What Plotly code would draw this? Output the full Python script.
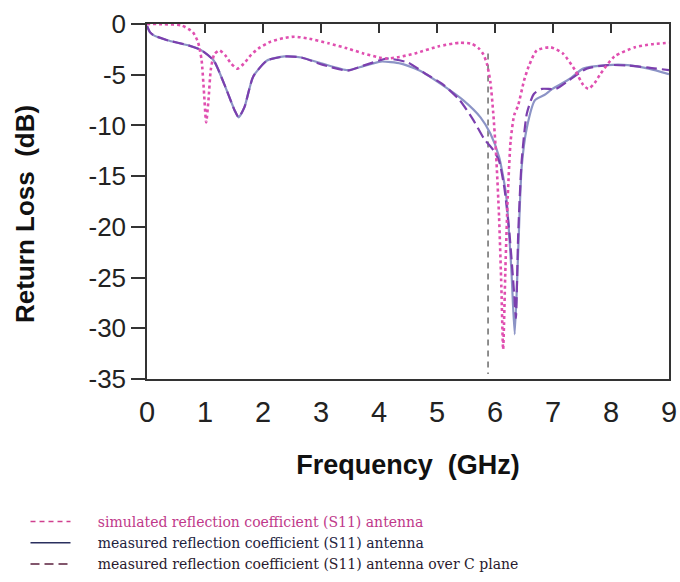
import plotly.graph_objects as go

# ---------------- data ----------------
sim_freq = [0, 0.3, 0.6, 0.79, 0.88, 0.94, 0.98, 1.02, 1.06, 1.1, 1.16, 1.25, 1.35, 1.45,
            1.56, 1.67, 1.8, 1.95, 2.13, 2.35, 2.54, 2.8, 3.13, 3.45, 3.73, 4.0, 4.14,
            4.35, 4.62, 5.03, 5.39, 5.6, 5.72, 5.8, 5.86, 5.92, 5.97, 6.02, 6.07, 6.11,
            6.14, 6.18, 6.22, 6.27, 6.33, 6.4, 6.5, 6.58, 6.72, 6.96, 7.17, 7.38, 7.52,
            7.61, 7.72, 7.82, 8.06, 8.41, 8.7, 9.0]
sim_s11 = [0, -0.02, -0.15, -0.8, -1.8, -3.5, -6.5, -9.7, -7.5, -4.5, -3.0, -2.6, -3.1, -3.9,
           -4.4, -3.9, -3.0, -2.3, -1.75, -1.4, -1.25, -1.45, -1.9, -2.4, -2.9, -3.3, -3.4,
           -3.25, -2.9, -2.2, -1.85, -1.95, -2.4, -3.0, -3.9, -5.7, -8.8, -13.0, -19.0, -26.0,
           -32.1, -24.0, -17.0, -11.5, -9.0, -8.0, -5.6, -4.2, -2.6, -2.3, -2.9, -4.55, -6.0,
           -6.4, -5.8, -4.9, -3.2, -2.3, -2.0, -1.85]

meas_freq = [0, 0.05, 0.11, 0.35, 0.71, 0.94, 1.15, 1.33, 1.51, 1.58, 1.68, 1.83, 2.07, 2.37,
             2.66, 3.02, 3.46, 3.73, 4.03, 4.38, 4.74, 5.09, 5.45, 5.75, 5.92, 6.07, 6.19,
             6.28, 6.34, 6.40, 6.46, 6.55, 6.69, 6.85, 6.99, 7.29, 7.52, 7.94, 8.29, 8.65, 9.0]
meas_s11 = [-0.2, -0.8, -1.1, -1.6, -2.1, -2.6, -3.6, -5.9, -8.5, -9.2, -8.2, -5.2, -3.6, -3.2,
            -3.3, -3.9, -4.55, -4.15, -3.7, -3.9, -4.7, -6.0, -7.5, -9.2, -10.8, -13.1, -16.8,
            -24.0, -30.6, -22.4, -14.1, -10.2, -7.5, -7.0, -6.4, -5.4, -4.4, -4.05, -4.05, -4.4, -4.95]

cplane_freq = [0, 0.05, 0.11, 0.35, 0.71, 0.94, 1.15, 1.33, 1.51, 1.58, 1.68, 1.83, 2.07, 2.37,
               2.66, 3.02, 3.46, 3.73, 4.03, 4.14, 4.5, 4.8, 5.09, 5.39, 5.63, 5.81, 5.98, 6.07,
               6.16, 6.25, 6.33, 6.36, 6.40, 6.46, 6.55, 6.67, 6.81, 7.05, 7.29, 7.58, 7.94,
               8.3, 8.65, 9.0]
cplane_s11 = [-0.2, -0.8, -1.1, -1.6, -2.1, -2.6, -3.6, -5.9, -8.5, -9.2, -8.2, -5.2, -3.6, -3.2,
              -3.3, -4.0, -4.6, -4.1, -3.55, -3.4, -3.8, -4.9, -5.9, -7.5, -9.5, -11.3, -12.5,
              -13.5, -16.1, -20.7, -26.6, -29.0, -20.7, -13.5, -8.8, -6.9, -6.4, -6.4, -5.5,
              -4.4, -4.05, -4.1, -4.3, -4.55]

marker_freq = [5.88, 5.88]
marker_s11 = [-2.9, -34.5]

x_ticks = [0, 1, 2, 3, 4, 5, 6, 7, 8, 9]
y_ticks = [0, -5, -10, -15, -20, -25, -30, -35]

x_title = "Frequency  (GHz)"
y_title = "Return Loss  (dB)"

legend_names = [
    "simulated reflection coefficient (S11) antenna",
    "measured reflection coefficient (S11) antenna",
    "measured reflection coefficient (S11) antenna over C plane",
]

# ---------------- figure ----------------
fig = go.Figure()

fig.add_trace(go.Scatter(x=marker_freq, y=marker_s11, mode="lines",
                         line=dict(color="#555555", width=1.3, dash="6px,5px"),
                         showlegend=False, hoverinfo="skip"))
fig.add_trace(go.Scatter(x=meas_freq, y=meas_s11, mode="lines",
                         line=dict(color="#8c94c6", width=2.2, shape="spline", smoothing=0.6),
                         showlegend=False))
fig.add_trace(go.Scatter(x=cplane_freq, y=cplane_s11, mode="lines",
                         line=dict(color="#7b3fae", width=2.2, dash="11px,5px",
                                   shape="spline", smoothing=0.6),
                         showlegend=False))
fig.add_trace(go.Scatter(x=sim_freq, y=sim_s11, mode="lines",
                         line=dict(color="#e04fb0", width=2.6, dash="3px,3px",
                                   shape="spline", smoothing=0.6),
                         showlegend=False))

# legend entries (styled like the reference legend)
sp = "&nbsp;" * 5
fig.add_trace(go.Scatter(x=[None], y=[None], mode="lines",
                         line=dict(color="#d0408f", width=1.5, dash="5px,4px"),
                         name=sp + "<span style='color:#c0398a'>" + legend_names[0] + "</span>"))
fig.add_trace(go.Scatter(x=[None], y=[None], mode="lines",
                         line=dict(color="#2a2f5e", width=1.6),
                         name=sp + "<span style='color:#22223e'>" + legend_names[1] + "</span>"))
fig.add_trace(go.Scatter(x=[None], y=[None], mode="lines",
                         line=dict(color="#5a1f3c", width=1.6, dash="9px,5px"),
                         name=sp + "<span style='color:#2a1a2e'>" + legend_names[2] + "</span>"))

fig.update_layout(
    width=680, height=582,
    margin=dict(l=147, r=11, t=24, b=203, autoexpand=False),
    paper_bgcolor="white", plot_bgcolor="white",
    font=dict(family="Liberation Sans, Arial, sans-serif", color="#222222"),
    showlegend=True,
    legend=dict(
        xref="container", yref="container", x=0.0375, y=0.1306,
        xanchor="left", yanchor="top",
        font=dict(family="DejaVu Serif, Liberation Serif, serif", size=14),
        bgcolor="rgba(0,0,0,0)", tracegroupgap=0, itemwidth=40,
    ),
    xaxis=dict(
        range=[0, 9], tickvals=x_ticks, ticktext=[str(v) for v in x_ticks],
        showgrid=False, zeroline=False,
        showline=True, linecolor="#333333", linewidth=1.5, mirror=True,
        ticks="", tickfont=dict(size=29, color="#222222"),
        ticklabelstandoff=6, ticklabeloverflow="allow",
        title=dict(text="<b>" + x_title + "</b>", font=dict(size=27, color="#111111"),
                   standoff=29),
    ),
    xaxis2=dict(
        range=[0, 9], overlaying="x", side="top", tickvals=x_ticks[1:-1],
        showticklabels=False, ticks="inside", ticklen=9, tickwidth=1.5,
        tickcolor="#333333", showgrid=False, zeroline=False, showline=False,
    ),
    yaxis=dict(
        range=[-35, 0], tickvals=y_ticks, ticktext=[str(v) for v in y_ticks],
        showgrid=False, zeroline=False,
        showline=True, linecolor="#333333", linewidth=1.5, mirror=True,
        ticks="outside", ticklen=14, tickwidth=1.5, tickcolor="#333333",
        tickfont=dict(size=26, color="#222222"),
    ),
    annotations=[dict(
        text="<b>" + y_title + "</b>", textangle=-90,
        xref="paper", yref="paper", x=-0.2337, y=0.465,
        xanchor="center", yanchor="middle", showarrow=False,
        font=dict(size=26, color="#111111", family="Liberation Sans, Arial, sans-serif"),
    )],
)

# dummy trace to activate the top tick axis
fig.add_trace(go.Scatter(x=[None], y=[None], xaxis="x2", showlegend=False, hoverinfo="skip"))

fig.write_html(
    "out.html",
    config={"displayModeBar": False},
    post_script="document.body.style.margin='0';document.body.style.overflow='hidden';",
)
